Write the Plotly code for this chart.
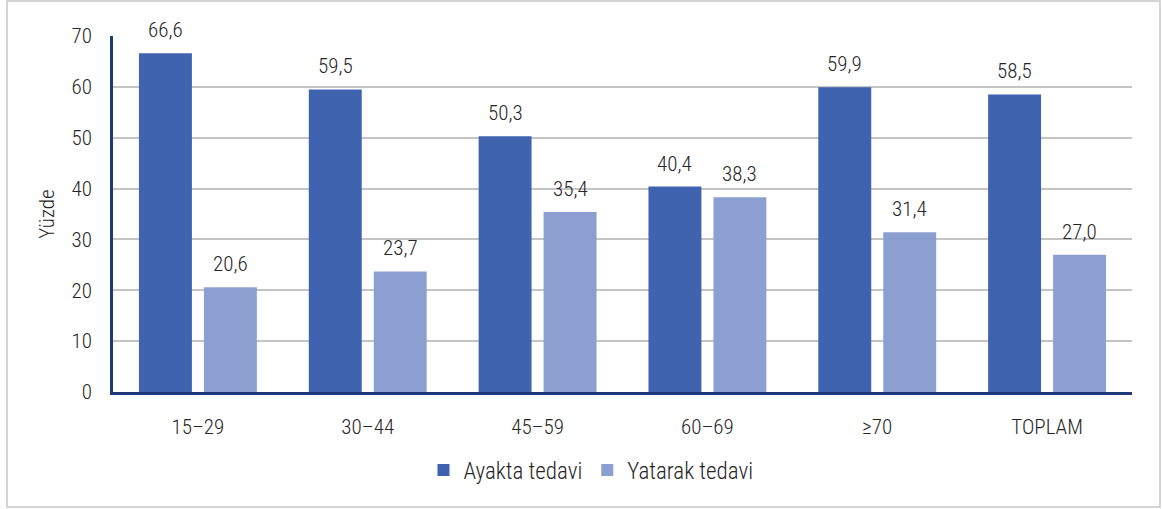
import plotly.graph_objects as go

categories = ["15–29", "30–44", "45–59", "60–69", "≥70", "TOPLAM"]
ayakta = [66.6, 59.5, 50.3, 40.4, 59.9, 58.5]
yatarak = [20.6, 23.7, 35.4, 38.3, 31.4, 27.0]
series_names = ["Ayakta tedavi", "Yatarak tedavi"]

FONT = "Roboto Condensed, Liberation Sans Narrow, DejaVu Sans Condensed, Roboto, sans-serif"
TXT = "#262626"
FS = 21
WEIGHT = 300

W, H = 1162, 509
L, R, T, B = 113, 30, 36, 117
pw, ph = W - L - R, H - T - B
BARGAP, GROUPGAP = 0.235, 0.185

def px2x(p):
    return (p - L) / pw

def px2y(p):
    return (H - B - p) / ph

fnt = dict(family=FONT, size=FS, color=TXT, weight=WEIGHT)

fig = go.Figure()
colors = ["#3F63AF", "#8C9FD1"]
for name, vals, col in zip(series_names, [ayakta, yatarak], colors):
    fig.add_trace(go.Bar(
        x=categories, y=vals, name=name,
        marker=dict(color=col, line=dict(width=0)),
    ))

# value labels above bars
group_px = pw / len(categories)
slot_px = group_px * (1 - BARGAP) / 2
annotations = []
for k, vals in enumerate([ayakta, yatarak]):
    off = (k - 0.5) * slot_px
    for c, v in zip(categories, vals):
        annotations.append(dict(
            x=c, y=v, xref="x", yref="y", text=f"{v:.1f}".replace(".", ","),
            showarrow=False, xshift=off, yshift=23, yanchor="middle",
            font=fnt,
        ))

fig.update_layout(
    width=W, height=H,
    margin=dict(l=L, r=R, t=T, b=B),
    paper_bgcolor="white", plot_bgcolor="white",
    separators=",.",
    barmode="group", bargap=BARGAP, bargroupgap=GROUPGAP,
    font=fnt,
    showlegend=True,
    legend=dict(orientation="h", x=px2x(591), xanchor="center", y=px2y(470), yanchor="middle",
                font=dict(family=FONT, size=23, color=TXT, weight=WEIGHT), itemwidth=30,
                traceorder="normal"),
    xaxis=dict(showgrid=False, showline=True, linecolor="#1F3A7A", linewidth=2.5,
               ticks="", tickfont=fnt, ticklabelstandoff=14, automargin=False),
    yaxis=dict(range=[0, 70], dtick=10, showgrid=True, gridcolor="#C4C4C4", gridwidth=1.5,
               showline=True, linecolor="#1F3A7A", linewidth=2.5, zeroline=False,
               ticks="", tickfont=fnt, ticklabelstandoff=14, automargin=False,
               title=dict(text="Yüzde", font=dict(family=FONT, size=21, color=TXT, weight=WEIGHT),
                          standoff=12)),
    annotations=annotations,
    shapes=[dict(type="rect", xref="paper", yref="paper",
                 x0=px2x(7), x1=px2x(1160), y0=px2y(507), y1=px2y(1),
                 line=dict(color="#C8C8C8", width=1.5), fillcolor="rgba(0,0,0,0)", layer="below")],
)

fig.write_html("out.html", config={"displayModeBar": False},
               post_script="document.body.style.margin='0';document.body.style.overflow='hidden';")
